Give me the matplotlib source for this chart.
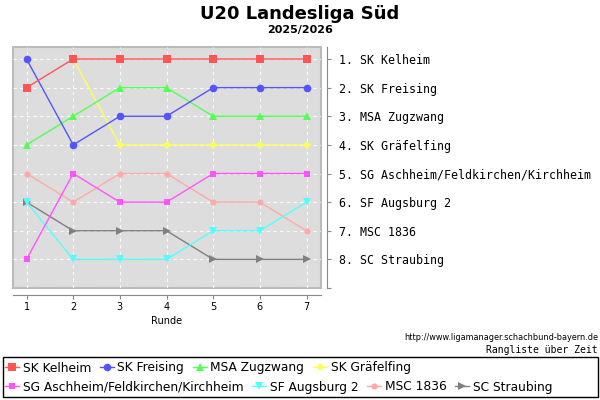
import numpy as np
import matplotlib
matplotlib.use("Agg")
import matplotlib.pyplot as plt
from matplotlib.lines import Line2D
from matplotlib.patches import Rectangle

rounds = [1, 2, 3, 4, 5, 6, 7]
teams = ["SK Kelheim", "SK Freising", "MSA Zugzwang", "SK Gräfelfing",
         "SG Aschheim/Feldkirchen/Kirchheim", "SF Augsburg 2", "MSC 1836", "SC Straubing"]
kelheim = [2, 1, 1, 1, 1, 1, 1]
freising = [1, 4, 3, 3, 2, 2, 2]
zugzwang = [4, 3, 2, 2, 3, 3, 3]
graefelfing = [np.nan, 1, 4, 4, 4, 4, 4]
aschheim = [8, 5, 6, 6, 5, 5, 5]
augsburg = [6, 8, 8, 8, 7, 7, 6]
msc = [5, 6, 5, 5, 6, 6, 7]
straubing = [6, 7, 7, 7, 8, 8, 8]
series = [kelheim, freising, zugzwang, graefelfing, aschheim, augsburg, msc, straubing]
final_labels = ["1. SK Kelheim", "2. SK Freising", "3. MSA Zugzwang", "4. SK Gräfelfing",
                "5. SG Aschheim/Feldkirchen/Kirchheim", "6. SF Augsburg 2", "7. MSC 1836",
                "8. SC Straubing"]

colors = ["#FF5555", "#5555FF", "#55FF55", "#FFFF55", "#FF55FF", "#55FFFF", "#FFAAAA", "#808080"]
markers = ["s", "o", "^", "D", "s", "v", "o", ">"]
msizes = [5.5, 5.5, 6, 4, 5, 6, 4.5, 6]

fig = plt.figure(figsize=(6, 4), dpi=100)
ax = fig.add_axes([13/600, 1 - 288/400, (321-13)/600, (288-47)/400])
ax.set_facecolor("#DDDDDD")
ax.patch.set_edgecolor("#BBBBBB")
ax.patch.set_linewidth(1.5)

for i, (vals, c, m, ms) in enumerate(zip(series, colors, markers, msizes)):
    ax.plot(rounds, vals, color=c, marker=m, markersize=ms, lw=1.0,
            markeredgewidth=0, zorder=10 - i, label=teams[i])

ax.set_xlim(0.71, 7.31)
ax.set_ylim(8.97, 0.58)
ax.grid(True, color="white", linestyle=(0, (3, 3)), lw=0.8, alpha=0.9)
ax.set_axisbelow(True)

for s in ["top", "left"]:
    ax.spines[s].set_visible(False)
ax.spines["bottom"].set_position(("outward", 5))
ax.spines["bottom"].set_color("#888888")
ax.spines["right"].set_position(("outward", 4))
ax.spines["right"].set_color("#888888")

ax.set_xticks(rounds)
ax.set_xticklabels([str(r) for r in rounds], fontsize=7)
ax.tick_params(axis="x", direction="out", length=3, color="#888888", pad=2)
ax.yaxis.tick_right()
ax.set_yticks(list(range(1, 10)))
ax.set_yticklabels(final_labels + [""], family="DejaVu Sans Mono", fontsize=8.4)
ax.tick_params(axis="y", direction="out", length=3, color="#888888", pad=6)
ax.set_xlabel("Runde", fontsize=7, labelpad=3)

fig.text(0.5, 1 - 14/400, "U20 Landesliga Süd", ha="center", va="center",
         fontsize=13, fontweight="bold")
fig.text(0.5, 1 - 30/400, "2025/2026", ha="center", va="center",
         fontsize=8, fontweight="bold")
fig.text(598/600, 1 - 338/400, "http://www.ligamanager.schachbund-bayern.de",
         ha="right", va="center", fontsize=5.9)
fig.text(598/600, 1 - 350/400, "Rangliste über Zeit", ha="right", va="center",
         fontsize=7, family="DejaVu Sans Mono")

fig.patches.append(Rectangle((3/600, 1 - 397/400), 595/600, 40/400,
                             transform=fig.transFigure, fill=False,
                             edgecolor="black", lw=1))

handles = [Line2D([0], [0], color=c, marker=m, markersize=ms, markeredgewidth=0, lw=1)
           for c, m, ms in zip(colors, markers, msizes)]
leg_kw = dict(ncol=4, frameon=False, fontsize=8.8, handlelength=1.15,
              handletextpad=0.3, columnspacing=0.7, borderaxespad=0, borderpad=0)
leg1 = fig.legend(handles[:4], teams[:4], loc="center left",
                  bbox_to_anchor=(5/600, 1 - 368/400), **leg_kw)
leg2 = fig.legend(handles[4:], teams[4:], loc="center left",
                  bbox_to_anchor=(5/600, 1 - 387/400), **leg_kw)

fig.savefig("out.png", dpi=100)
